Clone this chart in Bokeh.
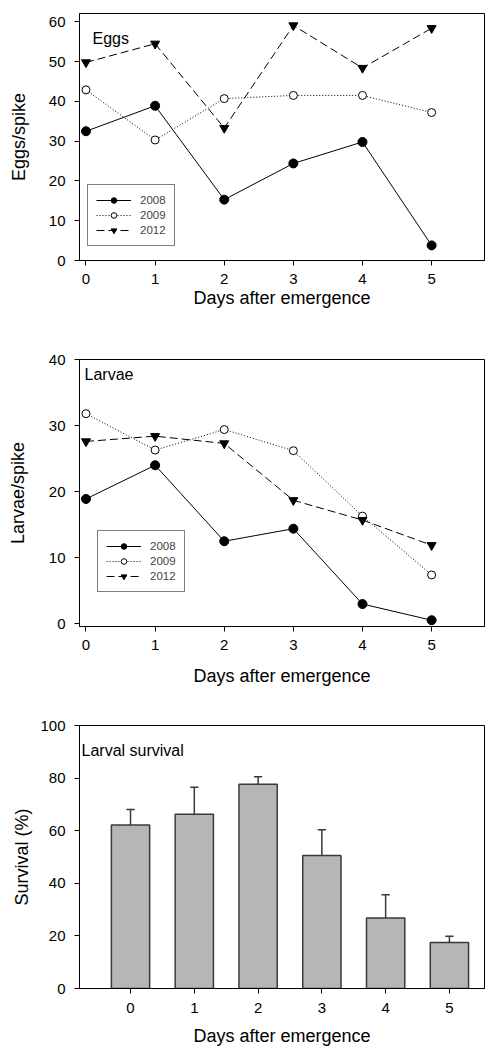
from bokeh.plotting import figure
from bokeh.layouts import column
from bokeh.models import Legend, LegendItem, Label, Range1d, FixedTicker
from bokeh.embed import file_html
from bokeh.resources import INLINE

# ---- data ----
days = [0, 1, 2, 3, 4, 5]
years = ["2008", "2009", "2012"]

eggs_2008 = [32.5, 38.9, 15.3, 24.4, 29.8, 3.8]
eggs_2009 = [42.9, 30.3, 40.7, 41.5, 41.5, 37.2]
eggs_2012 = [49.8, 54.5, 33.3, 59.1, 48.4, 58.4]

larvae_2008 = [18.9, 24.0, 12.5, 14.4, 3.0, 0.55]
larvae_2009 = [31.8, 26.3, 29.4, 26.2, 16.3, 7.4]
larvae_2012 = [27.6, 28.4, 27.3, 18.7, 15.7, 11.9]

survival = [62.2, 66.3, 77.7, 50.6, 26.8, 17.5]
survival_err = [5.9, 10.2, 2.8, 9.8, 8.8, 2.4]

FONT = "Liberation Sans"
W = 485
LEFT = 79


def style_axes(p, ylabel, y_standoff, x_ticks, y_ticks):
    for ax in (p.xaxis[0], p.yaxis[0]):
        ax.axis_line_color = "black"
        ax.axis_line_width = 1
        ax.major_tick_line_color = "black"
        ax.major_tick_in = 0
        ax.major_tick_out = 5
        ax.minor_tick_line_color = None
        ax.major_label_text_font = FONT
        ax.major_label_text_font_size = "15px"
        ax.major_label_text_color = "black"
        ax.axis_label_text_font = FONT
        ax.axis_label_text_font_size = "18px"
        ax.axis_label_text_font_style = "normal"
        ax.axis_label_text_color = "black"
    p.xaxis[0].ticker = FixedTicker(ticks=x_ticks)
    p.yaxis[0].ticker = FixedTicker(ticks=y_ticks)
    p.xaxis[0].axis_label = "Days after emergence"
    p.yaxis[0].axis_label = ylabel
    p.yaxis[0].major_label_standoff = 9
    p.xaxis[0].major_label_standoff = 8
    p.yaxis[0].axis_label_standoff = y_standoff
    p.xaxis[0].axis_label_standoff = 5
    p.xgrid.grid_line_color = None
    p.ygrid.grid_line_color = None
    p.outline_line_color = "black"
    p.outline_line_width = 1
    p.background_fill_color = "white"
    p.border_fill_color = "white"


def line_panel(height, top, bottom, yr, ylabel, y_standoff, y_ticks, series,
               title, title_xy, legend_xy, xlabel_standoff):
    p = figure(width=W, height=height, output_backend="svg",
               toolbar_location=None,
               x_range=Range1d(-0.094, 5.765), y_range=Range1d(*yr),
               min_border_left=LEFT, min_border_right=1,
               min_border_top=top, min_border_bottom=bottom)
    style_axes(p, ylabel, y_standoff, [0, 1, 2, 3, 4, 5, 6], y_ticks)
    p.xaxis[0].axis_label_standoff = xlabel_standoff
    dashes = ["solid", "1 2", "8 4"]
    markers = ["circle", "circle", "inverted_triangle"]
    fills = ["black", "white", "black"]
    sizes = [9, 8, 9]
    items = []
    for name, vals, d, m, f, s in zip(years, series, dashes, markers, fills, sizes):
        ln = p.line(days, vals, line_color="black", line_width=1, line_dash=d)
        sc = p.scatter(days, vals, marker=m, size=s, fill_color=f,
                       line_color="black", line_width=1)
        items.append(LegendItem(label=name, renderers=[ln, sc]))
    leg = Legend(items=items, location=legend_xy, orientation="vertical",
                 border_line_color="black", border_line_width=1,
                 background_fill_color="white", background_fill_alpha=1,
                 label_text_font=FONT, label_text_font_size="11.5px",
                 glyph_width=35, glyph_height=14, label_height=14,
                 label_standoff=9, spacing=1, padding=8, margin=0)
    p.add_layout(leg, "center")
    p.add_layout(Label(x=title_xy[0], y=title_xy[1], x_units="screen",
                       y_units="screen", text=title, text_font=FONT,
                       text_font_size="16px", text_baseline="middle",
                       text_color="black"))
    return p


# panel 1: frame 247 px tall; panel 2: frame 267 px tall
p1 = line_panel(318, 13, 58, (0, 62.1), "Eggs/spike", 17,
                [0, 10, 20, 30, 40, 50, 60],
                [eggs_2008, eggs_2009, eggs_2012], "Eggs", (13, 222), (8, 14), 1)
p2 = line_panel(380, 41, 72, (-0.4, 40), "Larvae/spike", 18,
                [0, 10, 20, 30, 40],
                [larvae_2008, larvae_2009, larvae_2012], "Larvae", (5, 252), (18, 34), 13)

# ---- survival bar panel ----
p3 = figure(width=W, height=351, output_backend="svg", toolbar_location=None,
            x_range=Range1d(-0.8, 5.55), y_range=Range1d(0, 100),
            min_border_left=LEFT, min_border_right=1,
            min_border_top=27, min_border_bottom=61)
style_axes(p3, "Survival (%)", 5, [0, 1, 2, 3, 4, 5], [0, 20, 40, 60, 80, 100])
p3.xaxis[0].major_label_standoff = 9
p3.xaxis[0].axis_label_standoff = 10
p3.vbar(x=days, top=survival, bottom=0, width=0.6, fill_color="#b6b6b6",
        line_color="#3a3a3a", line_width=1.5)
tops = [s + e for s, e in zip(survival, survival_err)]
p3.segment(x0=days, y0=survival, x1=days, y1=tops, line_color="#3a3a3a",
           line_width=1.5)
p3.segment(x0=[d - 0.065 for d in days], y0=tops, x1=[d + 0.065 for d in days],
           y1=tops, line_color="#3a3a3a", line_width=1.5)
p3.add_layout(Label(x=2, y=238, x_units="screen", y_units="screen",
                    text="Larval survival", text_font=FONT,
                    text_font_size="16px", text_baseline="middle",
                    text_color="black"))

layout = column(p1, p2, p3, spacing=0)
open("out.html", "w").write(file_html(layout, INLINE))
